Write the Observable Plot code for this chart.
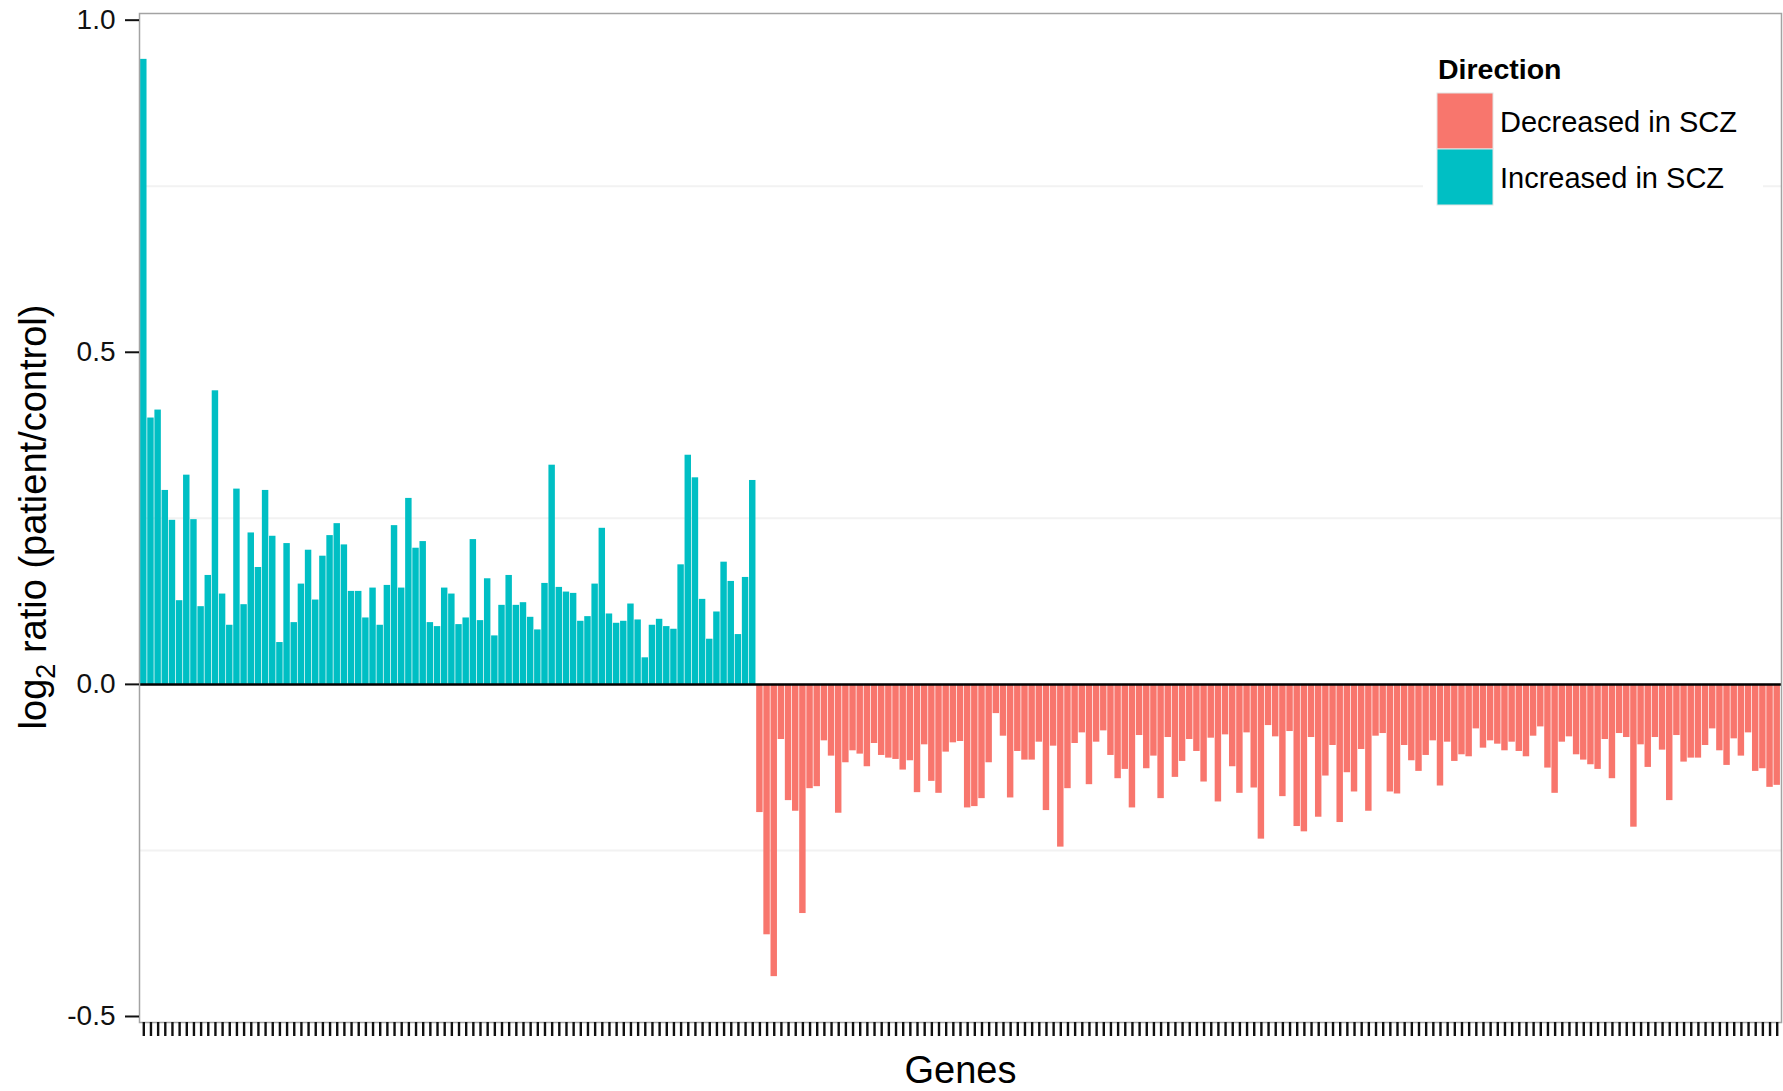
<!DOCTYPE html>
<html>
<head>
<meta charset="utf-8">
<script src="https://cdn.jsdelivr.net/npm/d3@7"></script>
<script src="https://cdn.jsdelivr.net/npm/@observablehq/plot@0.6"></script>
<style>
  body { margin: 0; background: #fff; }
  #fig { position: relative; width: 1783px; height: 1091px; }
</style>
</head>
<body>
<div id="fig"></div>
<script>
// log2 ratio (patient/control) per gene, in plotting order
const increased = [
  0.941, 0.401, 0.413, 0.292, 0.247, 0.126, 0.315, 0.248, 0.117, 0.164,
  0.442, 0.136, 0.089, 0.294, 0.120, 0.228, 0.176, 0.292, 0.223, 0.063,
  0.212, 0.093, 0.151, 0.202, 0.127, 0.193, 0.224, 0.242, 0.210, 0.140,
  0.140, 0.100, 0.145, 0.089, 0.149, 0.239, 0.145, 0.280, 0.205, 0.215,
  0.093, 0.087, 0.145, 0.136, 0.090, 0.100, 0.218, 0.096, 0.159, 0.073,
  0.119, 0.164, 0.119, 0.123, 0.101, 0.082, 0.152, 0.330, 0.146, 0.139,
  0.137, 0.095, 0.102, 0.151, 0.235, 0.106, 0.092, 0.095, 0.121, 0.097,
  0.040, 0.089, 0.098, 0.087, 0.083, 0.180, 0.345, 0.311, 0.128, 0.068,
  0.109, 0.184, 0.155, 0.075, 0.161, 0.307
];
const decreased = [
  -0.193, -0.377, -0.440, -0.083, -0.175, -0.191, -0.345, -0.157, -0.154, -0.085,
  -0.108, -0.194, -0.118, -0.100, -0.105, -0.124, -0.089, -0.107, -0.111, -0.113,
  -0.129, -0.115, -0.163, -0.091, -0.146, -0.164, -0.102, -0.088, -0.086, -0.186,
  -0.184, -0.172, -0.118, -0.044, -0.078, -0.171,
  -0.101, -0.114, -0.114, -0.087, -0.190, -0.093, -0.245, -0.157, -0.089, -0.073,
  -0.151, -0.087, -0.070, -0.107, -0.142, -0.128, -0.186, -0.077, -0.127, -0.108,
  -0.172, -0.080, -0.140, -0.116, -0.083, -0.101, -0.147, -0.081, -0.177, -0.076,
  -0.124, -0.164, -0.073, -0.156, -0.233,
  -0.062, -0.079, -0.169, -0.071, -0.214, -0.222, -0.080, -0.200, -0.138, -0.092,
  -0.208, -0.133, -0.162, -0.098, -0.191, -0.078, -0.074, -0.162, -0.165, -0.092,
  -0.115, -0.131, -0.107, -0.085, -0.153, -0.087, -0.116, -0.106, -0.109, -0.067,
  -0.096, -0.085, -0.090, -0.100, -0.087, -0.101,
  -0.109, -0.078, -0.064, -0.126, -0.164, -0.087, -0.079, -0.106, -0.114, -0.121,
  -0.128, -0.083, -0.142, -0.074, -0.080, -0.215, -0.091, -0.125, -0.080, -0.099,
  -0.175, -0.077, -0.117, -0.111, -0.111, -0.092, -0.067, -0.100, -0.122, -0.082,
  -0.108, -0.073, -0.131, -0.127, -0.155, -0.152
];

const directions = ["Decreased in SCZ", "Increased in SCZ"];
const directionColors = ["#F8766D", "#00BFC4"];
const yTicks = [-0.5, 0, 0.5, 1.0];
const minorGrid = [-0.25, 0.25, 0.75];
const legendTitle = "Direction";
const xTitle = "Genes";
const yTitleParts = ["log", "2", " ratio (patient/control)"];

const font = '"Liberation Sans", Arial, Helvetica, sans-serif';

// one row per gene: position index, value and direction
const genes = [
  ...increased.map(v => ({value: v, direction: directions[1]})),
  ...decreased.map(v => ({value: v, direction: directions[0]}))
].map((d, i) => ({...d, gene: i + 1}));

// y range padded by 5% on each side
const [lo, hi] = d3.extent(genes, d => d.value);
const pad = (hi - lo) * 0.05;

const chart = Plot.plot({
  width: 1783,
  height: 1091,
  marginLeft: 139,
  marginRight: 2,
  marginTop: 13,
  marginBottom: 69,
  style: {fontFamily: font, fontSize: "28px", color: "#000", background: "#fff"},
  x: {type: "band", domain: genes.map(d => d.gene), paddingInner: 0.1, paddingOuter: 0.15, round: false},
  y: {domain: [lo - pad, hi + pad]},
  color: {domain: directions, range: directionColors},
  marks: [
    Plot.gridY(minorGrid, {stroke: "#f2f2f2", strokeOpacity: 1, strokeWidth: 2}),
    Plot.barY(genes, {x: "gene", y: "value", fill: "direction"}),
    Plot.ruleY([0], {stroke: "#000", strokeWidth: 2.5}),
    Plot.frame({stroke: "#a3a3a3", strokeWidth: 1.5}),
    Plot.axisY(yTicks, {
      tickSize: 14, tickPadding: 10, tickFormat: d => d.toFixed(1),
      fontSize: 28, stroke: "#111", strokeWidth: 2, fill: "#111", label: null
    }),
    Plot.axisX({tickSize: 14, stroke: "#111", strokeWidth: 2.4, fill: "none", label: null}),
    Plot.text([xTitle], {text: d => d, frameAnchor: "bottom", dy: 60, lineAnchor: "bottom", fontSize: 38, fill: "#000"})
  ]
});

document.getElementById("fig").appendChild(chart);

const svg = d3.select(chart);

// y axis title with subscript
const yTitle = svg.append("text")
  .attr("transform", "translate(46,517) rotate(-90)")
  .attr("text-anchor", "middle")
  .attr("font-family", font)
  .attr("font-size", 38)
  .attr("fill", "#000");
yTitle.append("tspan").text(yTitleParts[0]);
yTitle.append("tspan").attr("font-size", 27).attr("dy", 9).text(yTitleParts[1]);
yTitle.append("tspan").attr("dy", -9).text(yTitleParts[2]);

// legend
const legend = svg.append("g").attr("font-family", font).attr("text-anchor", "start");
legend.append("rect").attr("x", 1423).attr("y", 38).attr("width", 340).attr("height", 178).attr("fill", "#fff");
legend.append("text").attr("x", 1438).attr("y", 79).attr("font-size", 28.5).attr("font-weight", "bold")
  .attr("text-anchor", "start").attr("fill", "#000").text(legendTitle);
directions.forEach((name, i) => {
  const top = 93 + i * 56;
  legend.append("rect").attr("x", 1437).attr("y", top).attr("width", 56).attr("height", 56)
    .attr("fill", directionColors[i]).attr("stroke", "#e4e4e4").attr("stroke-width", 1);
  legend.append("text").attr("x", 1500).attr("y", top + 38.5).attr("font-size", 29)
    .attr("text-anchor", "start").attr("fill", "#000").text(name);
});
</script>
</body>
</html>
